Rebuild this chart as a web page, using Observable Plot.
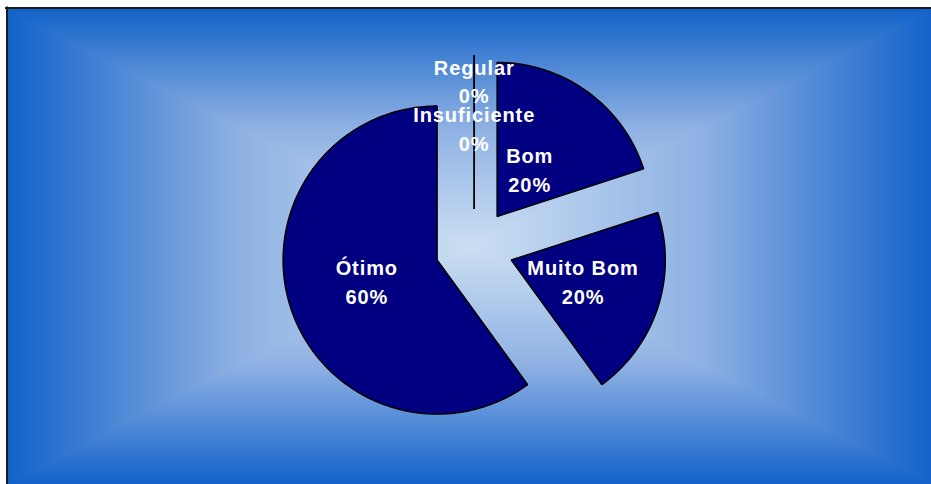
<!DOCTYPE html>
<html>
<head>
<meta charset="utf-8">
<script src="https://cdn.jsdelivr.net/npm/d3@7"></script>
<script src="https://cdn.jsdelivr.net/npm/@observablehq/plot@0.6"></script>
<style>
  html, body { margin: 0; padding: 0; background: #ffffff; }
  #chart svg { display: block; }
  #chart text { letter-spacing: 0.9px; }
</style>
</head>
<body>
<div id="chart"></div>
<script>
// ---- data ----
const categories = ["Regular", "Insuficiente", "Bom", "Muito Bom", "Ótimo"];
const values = [0, 0, 20, 20, 60];
const percentLabels = ["0%", "0%", "20%", "20%", "60%"];

// ---- layout (pixels) ----
const W = 931, H = 484;
const CX = 473.7, CY = 247.5, R = 154, EXPLODE = 39;
const labelRadius = { "Regular": 0.82, "Insuficiente": 0.51, "Bom": 0.36, "Muito Bom": 0.49, "Ótimo": 0.48 };
const BG = { x1: 7, y1: 8, x2: 933, y2: 484, cx: 470, cy: 246 };

const total = d3.sum(values);
const slicePts = [];
const labels = [];
let acc = 0;
categories.forEach((cat, i) => {
  const a0 = acc / total * 2 * Math.PI;
  acc += values[i];
  const a1 = acc / total * 2 * Math.PI;
  const mid = (a0 + a1) / 2;
  const vx = CX + EXPLODE * Math.sin(mid);
  const vy = CY - EXPLODE * Math.cos(mid);
  slicePts.push({ cat, x: vx, y: vy });
  const n = Math.max(1, Math.ceil((a1 - a0) / (Math.PI / 180)));
  for (let k = 0; k <= n; k++) {
    const a = a0 + (a1 - a0) * k / n;
    slicePts.push({ cat, x: vx + R * Math.sin(a), y: vy - R * Math.cos(a) });
  }
  const lr = labelRadius[cat] * R;
  labels.push({ cat, text: cat + "\n" + percentLabels[i], x: vx + lr * Math.sin(mid), y: vy - lr * Math.cos(mid) });
});

const hw = (BG.x2 - BG.x1) / 2, hh = (BG.y2 - BG.y1) / 2;

const chart = Plot.plot({
  width: W,
  height: H,
  margin: 0,
  style: { background: "transparent", overflow: "hidden" },
  x: { domain: [0, W], range: [0, W], axis: null },
  y: { domain: [0, H], range: [0, H], axis: null },
  color: { type: "linear", domain: [0, 0.5, 1], range: ["#cbdff3", "#8fb1e3", "#1262c9"], interpolate: "rgb" },
  marks: [
    Plot.raster({
      x1: BG.x1, y1: BG.y1, x2: BG.x2, y2: BG.y2,
      pixelSize: 1,
      fill: (x, y) => Math.min(1, Math.max(Math.abs(x - BG.cx) / hw, Math.abs(y - BG.cy) / hh))
    }),
    Plot.ruleY([7.5], { x1: 5, x2: W, stroke: "#1c1c1c", strokeWidth: 2 }),
    Plot.ruleX([6.5], { y1: 6.5, y2: H, stroke: "#1c1c1c", strokeWidth: 2 }),
    Plot.line(slicePts, {
      x: "x", y: "y", z: "cat",
      fill: "#000080", stroke: "#000000", strokeWidth: 1.5,
      curve: "linear-closed", strokeLinejoin: "miter"
    }),
    Plot.text(labels, {
      x: "x", y: "y", text: "text",
      fill: "#ffffff",
      fontSize: 20, fontWeight: "bold",
      fontFamily: "'Liberation Sans', Arial, sans-serif",
      lineHeight: 1.45,
      textAnchor: "middle",
      dy: -3
    })
  ]
});
document.getElementById("chart").appendChild(chart);
</script>
</body>
</html>
